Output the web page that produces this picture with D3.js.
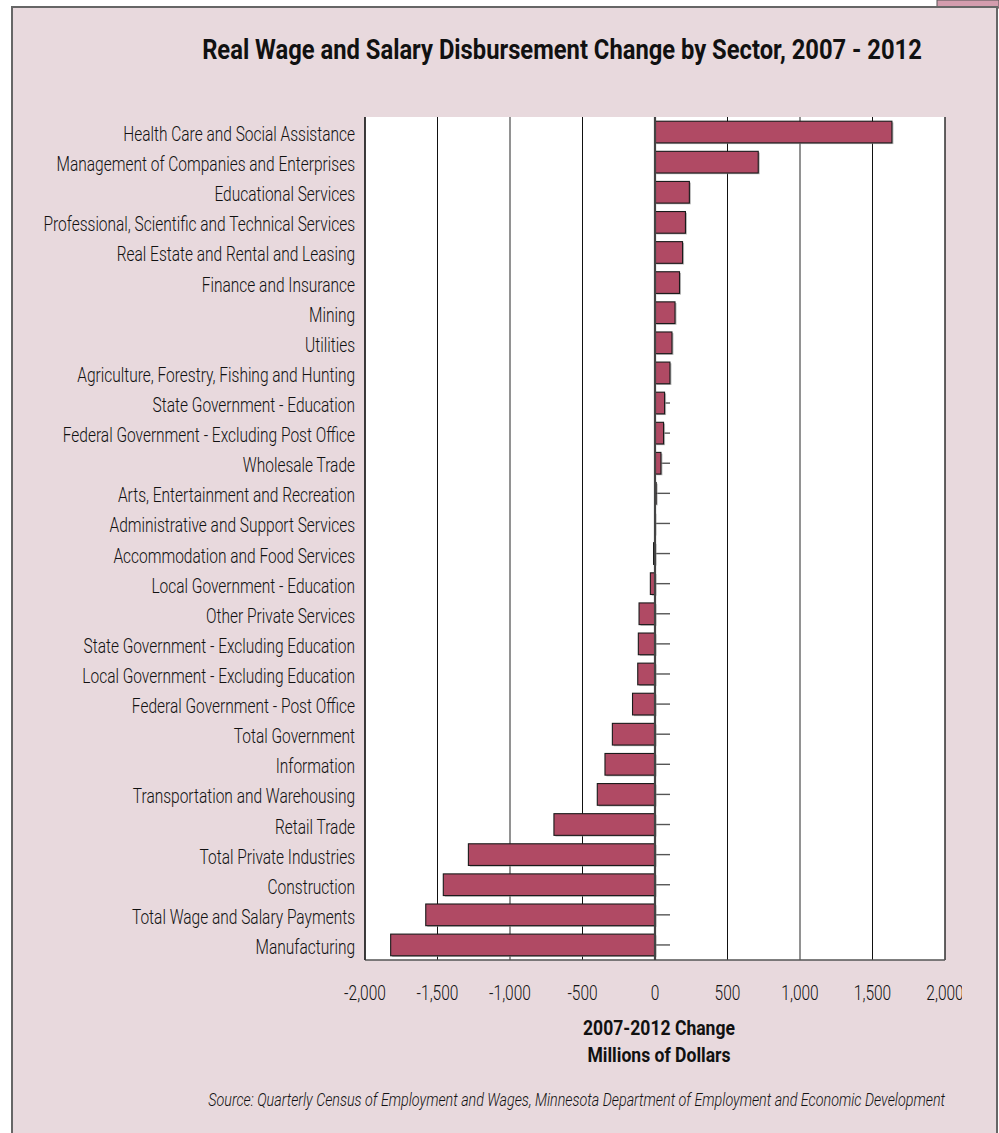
<!DOCTYPE html>
<html>
<head>
<meta charset="utf-8">
<script src="https://cdn.jsdelivr.net/npm/d3@7"></script>
<style>
  body { margin: 0; background: #fff; }
  svg { display: block; }
  text { font-family: Roboto, "DejaVu Sans", sans-serif; fill: #111; }
</style>
</head>
<body>
<svg class="svg"></svg>
<script>
const sectors = [
    'Health Care and Social Assistance',
    'Management of Companies and Enterprises',
    'Educational Services',
    'Professional, Scientific and Technical Services',
    'Real Estate and Rental and Leasing',
    'Finance and Insurance',
    'Mining',
    'Utilities',
    'Agriculture, Forestry, Fishing and Hunting',
    'State Government - Education',
    'Federal Government - Excluding Post Office',
    'Wholesale Trade',
    'Arts, Entertainment and Recreation',
    'Administrative and Support Services',
    'Accommodation and Food Services',
    'Local Government - Education',
    'Other Private Services ',
    'State Government - Excluding Education',
    'Local Government - Excluding Education',
    'Federal Government - Post Office',
    'Total Government',
    'Information',
    'Transportation and Warehousing',
    'Retail Trade',
    'Total Private Industries',
    'Construction',
    'Total Wage and Salary Payments',
    'Manufacturing'
];
const changes = [
    1634, 712, 237, 210, 190, 169, 138, 117, 103, 66, 59, 41, 8, 3, -10, -32,
    -110, -115, -119, -155, -294, -345, -398, -697, -1287, -1460, -1581, -1823
];
const xTicks = [-2000, -1500, -1000, -500, 0, 500, 1000, 1500, 2000];

const data = sectors.map((s, i) => ({ sector: s, value: changes[i] }));

const width = 999;
const height = 1133;
const plot = { left: 365, right: 945, top: 117, bottom: 960 };

const svg = d3.select('.svg')
    .attr('width', width)
    .attr('height', height);

// squeeze a text horizontally so it reads like the condensed face of the original
function condense (sel, target) {
    const node = sel.node();
    const w = node.getComputedTextLength();
    const f = target ? target / w : 1;
    const x = +sel.attr('x'), y = +sel.attr('y');
    sel.attr('x', 0).attr('y', 0)
        .attr('transform', `translate(${x},${y}) scale(${f},1)`);
    return f;
}

// background panel
svg.append('rect')
    .attr('x', 937).attr('y', 0)
    .attr('width', 62).attr('height', 8)
    .attr('fill', '#d39cad')
    .attr('stroke', '#555').attr('stroke-width', 1);
svg.append('rect')
    .attr('x', 12).attr('y', 7)
    .attr('width', 985).attr('height', height)
    .attr('fill', '#e8d9dd')
    .attr('stroke', '#666').attr('stroke-width', 2);

const xScale = d3.scaleLinear()
    .domain([-2000, 2000])
    .range([plot.left, plot.right]);

const yScale = d3.scaleBand()
    .domain(sectors)
    .range([plot.top, plot.bottom])
    .paddingInner(0.28)
    .paddingOuter(0.14);

svg.append('rect')
    .attr('x', plot.left).attr('y', plot.top)
    .attr('width', plot.right - plot.left)
    .attr('height', plot.bottom - plot.top)
    .attr('fill', '#fff');

/* GRID */
svg.append('g')
    .selectAll('line')
    .data(xTicks.filter(d => d !== 0))
    .enter().append('line')
    .attr('x1', d => xScale(d)).attr('x2', d => xScale(d))
    .attr('y1', plot.top).attr('y2', plot.bottom)
    .attr('stroke', d => Math.abs(d) === 1000 ? '#777' : '#111')
    .attr('stroke-width', d => Math.abs(d) === 1000 ? 1.6 : (Math.abs(d) === 2000 ? 1.3 : 1));

svg.append('line')
    .attr('x1', plot.left).attr('x2', plot.right)
    .attr('y1', plot.bottom).attr('y2', plot.bottom)
    .attr('stroke', '#555').attr('stroke-width', 1.6);

/* CATEGORY TICKS (behind the bars) */
const yAxis = d3.axisRight(yScale).tickSize(15).tickFormat('');
svg.append('g')
    .attr('id', 'y-axis')
    .attr('transform', `translate(${xScale(0)}, 0)`)
    .call(yAxis)
    .call(g => g.select('.domain').remove())
    .call(g => g.selectAll('line').attr('stroke', '#555').attr('stroke-width', 1.4));

/* BARS */
const bars = svg.append('g');
bars.selectAll('.shadow')
    .data(data).enter()
    .append('rect')
    .attr('class', 'shadow')
    .attr('x', d => xScale(Math.min(0, d.value)) + 1.5)
    .attr('y', d => yScale(d.sector) + 1.2)
    .attr('width', d => Math.abs(xScale(d.value) - xScale(0)))
    .attr('height', yScale.bandwidth())
    .attr('fill', '#999')
    .attr('opacity', 0.7);

bars.selectAll('.bar')
    .data(data).enter()
    .append('rect')
    .attr('class', 'bar')
    .attr('x', d => xScale(Math.min(0, d.value)))
    .attr('y', d => yScale(d.sector))
    .attr('width', d => Math.abs(xScale(d.value) - xScale(0)))
    .attr('height', yScale.bandwidth())
    .attr('fill', '#b04a64')
    .attr('stroke', '#1a1a1a')
    .attr('stroke-width', 1.1);

/* ZERO LINE + LEFT BORDER */
svg.append('line')
    .attr('x1', xScale(0)).attr('x2', xScale(0))
    .attr('y1', plot.top).attr('y2', plot.bottom)
    .attr('stroke', '#444').attr('stroke-width', 2.2);

svg.append('line')
    .attr('x1', plot.left).attr('x2', plot.left)
    .attr('y1', plot.top).attr('y2', plot.bottom)
    .attr('stroke', '#222').attr('stroke-width', 1.2);

/* CATEGORY LABELS */
const labels = svg.append('g')
    .selectAll('text')
    .data(sectors).enter()
    .append('text')
    .attr('x', 355)
    .attr('y', d => yScale(d) + yScale.bandwidth() / 2 + 9)
    .attr('text-anchor', 'end')
    .style('font-size', '20px')
    .style('font-weight', 300)
    .text(d => d);

// one squeeze factor for every label, taken from the first one
const squeeze = condense(d3.select(labels.nodes()[0]), 232);
labels.each(function (d, i) {
    if (i > 0) {
        const t = d3.select(this);
        const x = +t.attr('x'), y = +t.attr('y');
        t.attr('x', 0).attr('y', 0)
            .attr('transform', `translate(${x},${y}) scale(${squeeze},1)`);
    }
});

/* X AXIS LABELS */
svg.append('clipPath').attr('id', 'clip')
    .append('rect').attr('x', 0).attr('y', 0).attr('width', 962).attr('height', height);

const tickLabels = svg.append('g')
    .attr('clip-path', 'url(#clip)')
    .selectAll('text')
    .data(xTicks).enter()
    .append('text')
    .attr('text-anchor', 'middle')
    .attr('x', d => xScale(d))
    .attr('y', 1000)
    .style('font-size', '20px')
    .style('font-weight', 300)
    .text(d => d3.format(',d')(d).replace('−', '-'));
tickLabels.each(function () {
    const t = d3.select(this);
    const x = +t.attr('x'), y = +t.attr('y');
    t.attr('x', 0).attr('y', 0)
        .attr('transform', `translate(${x},${y}) scale(${squeeze},1)`);
});

/* TITLES */
const title = svg.append('text')
    .attr('x', 562)
    .attr('y', 59)
    .attr('text-anchor', 'middle')
    .style('font-size', '27px')
    .style('font-weight', 'bold')
    .text('Real Wage and Salary Disbursement Change by Sector, 2007 - 2012');
condense(title, 720);

const axisTitle1 = svg.append('text')
    .attr('x', 659)
    .attr('y', 1035)
    .attr('text-anchor', 'middle')
    .style('font-size', '20px')
    .style('font-weight', 'bold')
    .text('2007-2012 Change');
const fAxis = condense(axisTitle1, 152);

const axisTitle2 = svg.append('text')
    .attr('x', 659)
    .attr('y', 1062)
    .attr('text-anchor', 'middle')
    .style('font-size', '20px')
    .style('font-weight', 'bold')
    .text('Millions of Dollars');
condense(axisTitle2, axisTitle2.node().getComputedTextLength() * fAxis);

const source = svg.append('text')
    .attr('x', 945)
    .attr('y', 1106)
    .attr('text-anchor', 'end')
    .style('font-size', '18px')
    .style('font-style', 'italic')
    .style('font-weight', 300)
    .text('Source: Quarterly Census of Employment and Wages, Minnesota Department of Employment and Economic Development');
condense(source, 737);
</script>
</body>
</html>
